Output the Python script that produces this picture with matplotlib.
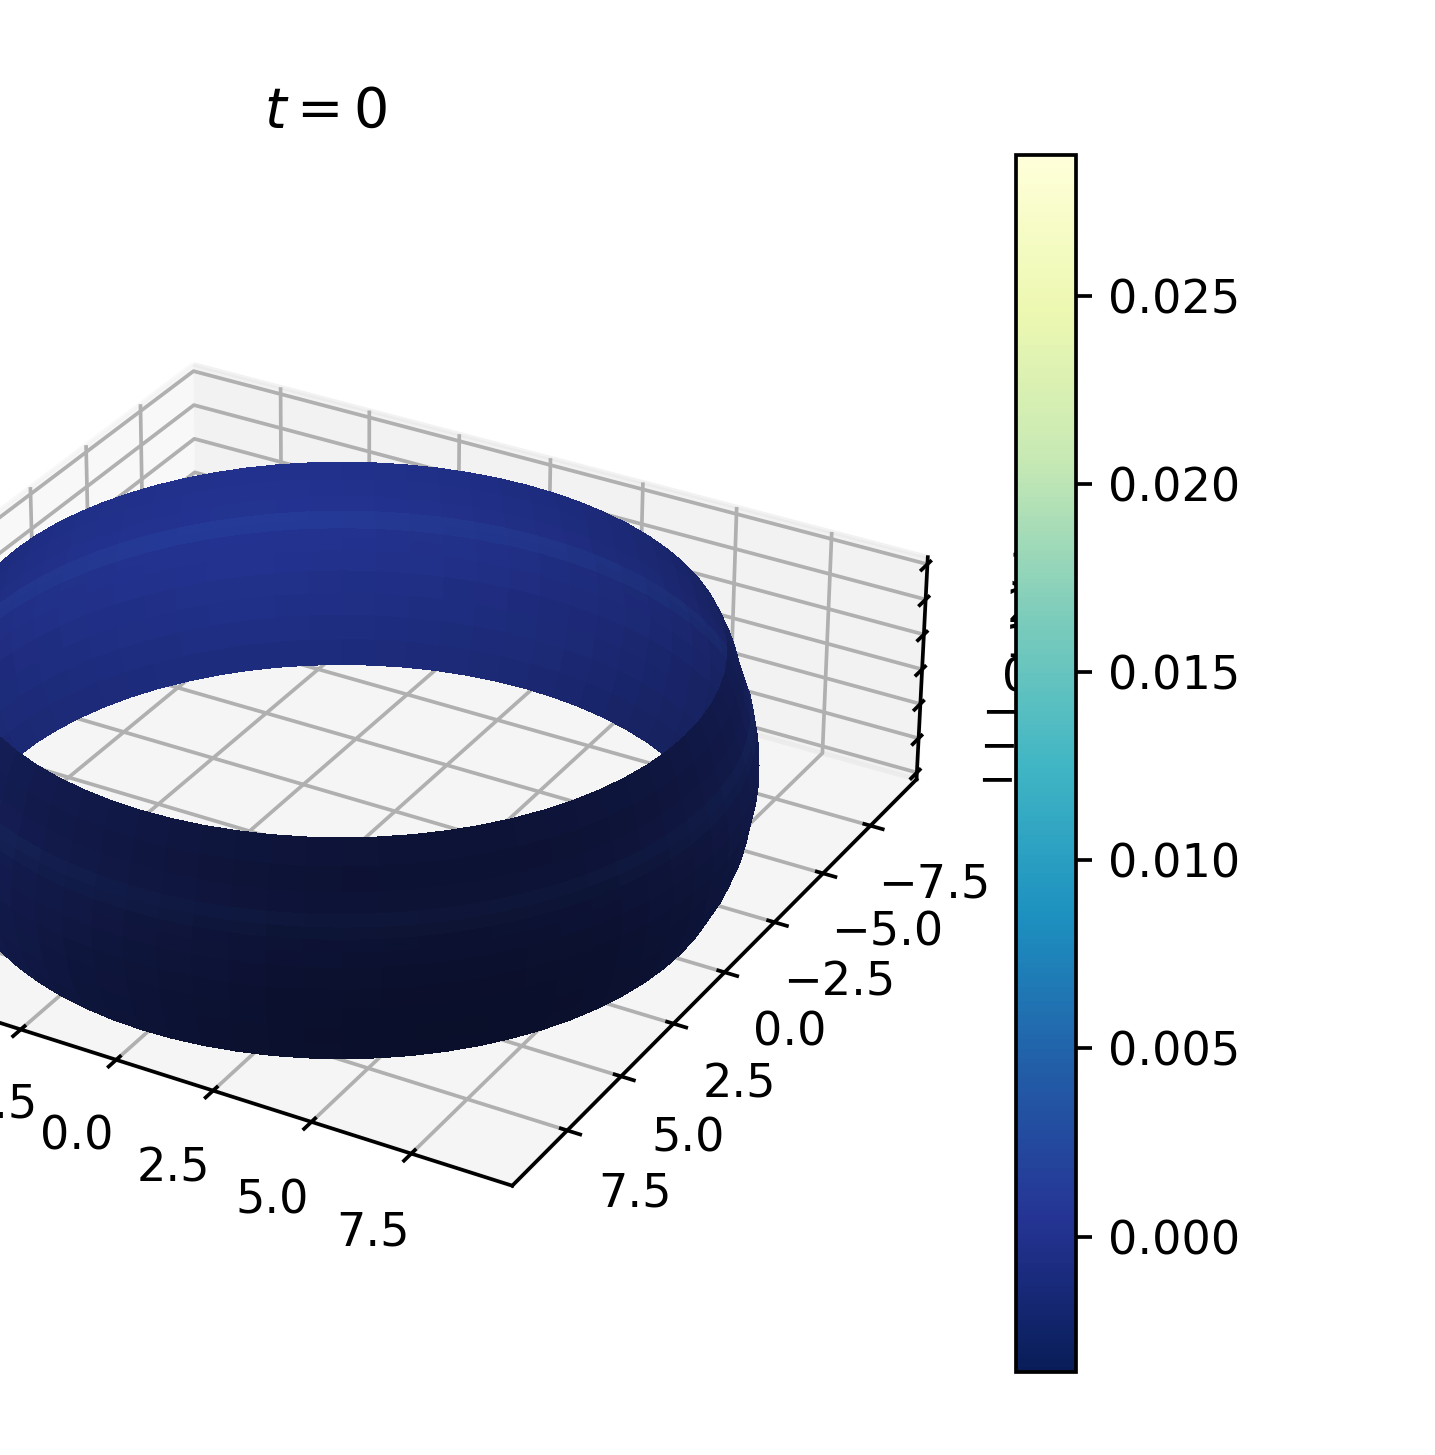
import numpy as np
import matplotlib
matplotlib.use('Agg')
import matplotlib.pyplot as plt
from matplotlib import cm, colors

# band profile from bottom edge to top edge
band_z = [-3.0, -2.4, -1.8, -1.2, -0.6, 0.0, 0.4, 0.7, 1.0, 1.3, 1.8, 2.4, 3.0]
band_r = [8.9, 9.2, 9.4, 9.5, 9.6, 9.6, 9.55, 9.5, 9.45, 9.35, 9.2, 9.05, 8.8]
band_val = [0.0000, 0.0000, 0.0000, 0.0001, 0.0002, 0.0002, 0.0003, 0.0010, 0.0010, 0.0003, 0.0001, 0.0000, 0.0000]

ticks_xy = [-7.5, -5.0, -2.5, 0.0, 2.5, 5.0, 7.5]
ticks_z = [-3, -2, -1, 0, 1, 2, 3]
cbar_ticks = [0.000, 0.005, 0.010, 0.015, 0.020, 0.025]
vmin, vmax = -0.0036, 0.02875

W, H = 1435, 1455
DPI = 333
fig = plt.figure(figsize=(W/DPI, H/DPI), dpi=DPI)
ax = fig.add_axes([-283/W, 83/H, 1217/W, 1217/H], projection='3d')
ax.patch.set_alpha(0)

theta = np.radians(np.arange(0, 361, 5))
T, Zi = np.meshgrid(theta, np.arange(len(band_z)))
R = np.array(band_r)[Zi]
X = R*np.cos(T)
Y = R*np.sin(T)
Z = np.array(band_z)[Zi]
V = np.array(band_val)[Zi]

norm = colors.Normalize(vmin, vmax)
cmap = matplotlib.colormaps['YlGnBu_r']
ax.plot_surface(X, Y, Z, facecolors=cmap(norm(V)), rstride=1, cstride=1,
                linewidth=0, antialiased=False)

ax.set_xlim(-9.99, 9.99)
ax.set_ylim(9.99, -9.99)
ax.set_zlim(-3.2, 3.2)
ax.set_box_aspect((4, 4, 1.2))
ax.set_xticks(ticks_xy)
ax.set_yticks(ticks_xy)
ax.set_zticks(ticks_z)
ax.zaxis.set_ticks_position('lower')
ax.view_init(30, -60)
ax.set_title(r'$t = 0$')

cax = fig.add_axes([1016/W, 83/H, 60/W, 1217/H])
cb = fig.colorbar(cm.ScalarMappable(norm=norm, cmap=cmap), cax=cax)
cb.set_ticks(cbar_ticks)

fig.savefig('out.png', dpi=DPI)
